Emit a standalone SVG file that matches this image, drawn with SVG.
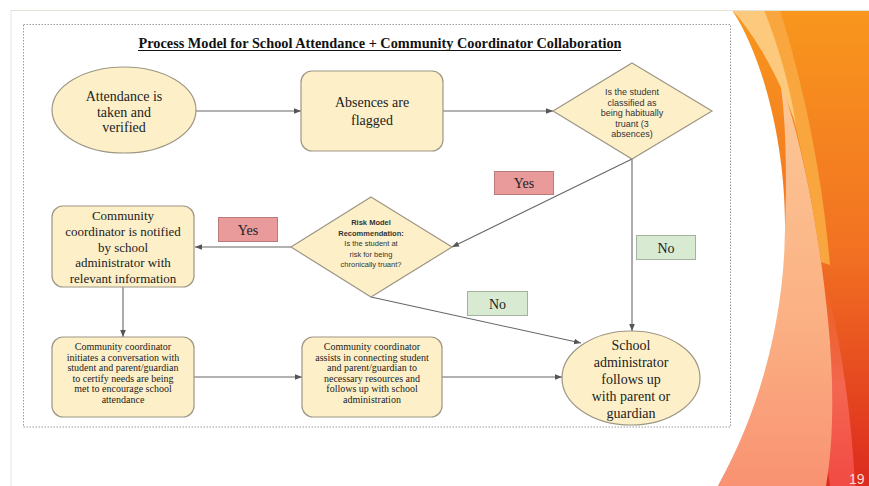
<svg xmlns="http://www.w3.org/2000/svg" width="869" height="486" viewBox="0 0 869 486">
<defs>
<linearGradient id="deep" x1="0" y1="0" x2="0" y2="1">
<stop offset="0" stop-color="#f8971d"/>
<stop offset="0.5" stop-color="#f27222"/>
<stop offset="1" stop-color="#dc2a1e"/>
</linearGradient>
<linearGradient id="peach" x1="0" y1="0" x2="0" y2="1">
<stop offset="0" stop-color="#fcc896"/>
<stop offset="0.6" stop-color="#fbb083"/>
<stop offset="1" stop-color="#f99272"/>
</linearGradient>
<linearGradient id="redband" x1="0" y1="0" x2="0" y2="1">
<stop offset="0" stop-color="#f47a4c" stop-opacity="0"/>
<stop offset="0.5" stop-color="#f46650"/>
<stop offset="1" stop-color="#f24a44"/>
</linearGradient>
<marker id="arr" viewBox="0 0 10 10" refX="10" refY="5" markerWidth="7" markerHeight="7" markerUnits="userSpaceOnUse" orient="auto">
<path d="M0,1 L10,5 L0,9 Z" fill="#555"/>
</marker>
<style>
.node{fill:#fdf0c9;stroke:#9e9684;stroke-width:1.2}
.t{font-family:"Liberation Serif","Times New Roman",serif;fill:#222;text-anchor:middle}
.s{font-family:"Liberation Sans",Arial,sans-serif;fill:#333;text-anchor:middle}
.c{fill:none;stroke:#666;stroke-width:1.1;marker-end:url(#arr)}
.yes{fill:#e99a9a;stroke:#b87a7a;stroke-width:1}
.no{fill:#d9ead3;stroke:#a3b39e;stroke-width:1}
</style>
</defs>

<rect x="0" y="0" width="869" height="486" fill="#ffffff"/>
<g id="decoration">
<rect x="700" y="10" width="169" height="476" fill="url(#deep)"/>
<path d="M800,300 C812,360 822,420 830,486 L855,486 C852,420 842,350 828,290 Z" fill="url(#redband)"/>
<path d="M780,80 C805,150 820,240 828,320 C834,380 834,440 826,486 L718,486 C755,420 782,320 785,230 C787,170 786,120 780,80 Z" fill="url(#peach)"/>
<path d="M760,10 L780,10 C802,80 822,170 830,265 L821,262 C809,175 790,90 760,10 Z" fill="#f9a63e"/>
<path d="M732,10 L764,10 C778,45 790,85 796,125 C784,90 760,40 732,10 Z" fill="#fdc97c"/>
<path d="M11,10 L732,10 C765,60 786,150 785,230 C784,320 760,410 718,486 L11,486 Z" fill="#ffffff"/>
<path d="M11,486 L11,10.5 L869,10.5" fill="none" stroke="#e6e3d6" stroke-width="1"/>
<text x="849" y="484" font-family="'Liberation Sans',Arial,sans-serif" font-size="14" fill="#f6dccf">19</text>
</g>

<rect id="frame" x="23.5" y="24.5" width="707" height="402.5" fill="none" stroke="#9a9a9a" stroke-width="1" stroke-dasharray="1.5,1.5"/>

<g id="title">
<text x="380" y="48" font-family="'Liberation Serif','Times New Roman',serif" font-size="14" font-weight="bold" fill="#111" text-anchor="middle" textLength="483" lengthAdjust="spacingAndGlyphs">Process Model for School Attendance + Community Coordinator Collaboration</text>
<line x1="138" y1="50.5" x2="621" y2="50.5" stroke="#111" stroke-width="1"/>
</g>

<g id="connectors">
<line class="c" x1="196" y1="111" x2="301" y2="111"/>
<line class="c" x1="443" y1="111" x2="553" y2="111"/>
<line class="c" x1="632" y1="159" x2="452" y2="247"/>
<line class="c" x1="632" y1="159" x2="632" y2="331"/>
<line class="c" x1="291" y1="247" x2="195" y2="247"/>
<line class="c" x1="123" y1="287" x2="123" y2="337"/>
<line class="c" x1="371" y1="297" x2="581" y2="343"/>
<line class="c" x1="194" y1="377" x2="302" y2="377"/>
<line class="c" x1="442" y1="377" x2="562" y2="377"/>
</g>

<g id="n-attendance">
<ellipse class="node" cx="124" cy="110" rx="72" ry="43"/>
<text class="t" font-size="14"><tspan x="124" y="101">Attendance is</tspan><tspan x="124" y="116.5">taken and</tspan><tspan x="124" y="132">verified</tspan></text>
</g>

<g id="n-absences">
<rect class="node" x="301" y="71" width="142" height="80" rx="11"/>
<text class="t" font-size="14"><tspan x="372" y="107">Absences are</tspan><tspan x="372" y="125">flagged</tspan></text>
</g>

<g id="n-habitual">
<polygon class="node" points="632,63 712,111 632,159 553,111"/>
<text class="s" font-size="9"><tspan x="632" y="95">Is the student</tspan><tspan x="632" y="105.5">classified as</tspan><tspan x="632" y="116">being habitually</tspan><tspan x="632" y="126.5">truant (3</tspan><tspan x="632" y="137">absences)</tspan></text>
</g>

<g id="n-risk">
<polygon class="node" points="371,197 452,247 371,297 291,247"/>
<text class="s" font-size="7.5"><tspan x="371" y="225" font-weight="bold">Risk Model</tspan><tspan x="371" y="235.5" font-weight="bold">Recommendation:</tspan><tspan x="371" y="246">Is the student at</tspan><tspan x="371" y="256.5">risk for being</tspan><tspan x="371" y="267">chronically truant?</tspan></text>
</g>

<g id="n-notified">
<rect class="node" x="52" y="206" width="142" height="81" rx="11"/>
<text class="t" font-size="13"><tspan x="123" y="220">Community</tspan><tspan x="123" y="236">coordinator is notified</tspan><tspan x="123" y="251.5">by school</tspan><tspan x="123" y="267">administrator with</tspan><tspan x="123" y="283">relevant information</tspan></text>
</g>

<g id="n-conversation">
<rect class="node" x="52" y="337" width="142" height="80" rx="11"/>
<text class="t" font-size="10"><tspan x="123" y="350">Community coordinator</tspan><tspan x="123" y="360.6">initiates a conversation with</tspan><tspan x="123" y="371.2">student and parent/guardian</tspan><tspan x="123" y="381.8">to certify needs are being</tspan><tspan x="123" y="392.4">met to encourage school</tspan><tspan x="123" y="403">attendance</tspan></text>
</g>

<g id="n-assists">
<rect class="node" x="302" y="337" width="140" height="80" rx="11"/>
<text class="t" font-size="10"><tspan x="372" y="350">Community coordinator</tspan><tspan x="372" y="360.6">assists in connecting student</tspan><tspan x="372" y="371.2">and parent/guardian to</tspan><tspan x="372" y="381.8">necessary resources and</tspan><tspan x="372" y="392.4">follows up with school</tspan><tspan x="372" y="403">administration</tspan></text>
</g>

<g id="n-followup">
<ellipse class="node" cx="631" cy="378" rx="69" ry="47"/>
<text class="t" font-size="14"><tspan x="631" y="350">School</tspan><tspan x="631" y="367">administrator</tspan><tspan x="631" y="384">follows up</tspan><tspan x="631" y="401">with parent or</tspan><tspan x="631" y="417.5">guardian</tspan></text>
</g>

<g id="l-yes1">
<rect class="yes" x="494.5" y="171.5" width="59" height="23"/>
<text class="t" font-size="14" x="524" y="188">Yes</text>
</g>
<g id="l-yes2">
<rect class="yes" x="218.5" y="217.5" width="59" height="24"/>
<text class="t" font-size="14" x="248" y="234.5">Yes</text>
</g>
<g id="l-no1">
<rect class="no" x="636.5" y="235.5" width="59" height="24"/>
<text class="t" font-size="14" x="666" y="252.5">No</text>
</g>
<g id="l-no2">
<rect class="no" x="467.5" y="291.5" width="60" height="24"/>
<text class="t" font-size="14" x="497.5" y="308.5">No</text>
</g>
</svg>
